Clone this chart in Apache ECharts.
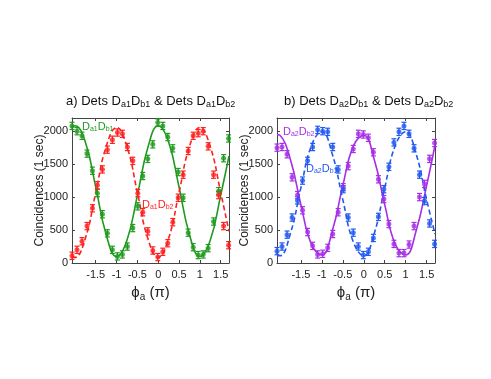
<!DOCTYPE html>
<html>
<head>
<meta charset="utf-8">
<script src="https://cdn.jsdelivr.net/npm/echarts@6/dist/echarts.min.js"></script>
<style>
  html, body { margin: 0; padding: 0; background: #fff; }
  #chart { width: 491px; height: 379px; }
</style>
</head>
<body>
<div id="chart"></div>
<script>
// phase settings (units of pi)
var phiX = [-2.07, -1.95, -1.83, -1.71, -1.58, -1.46, -1.34, -1.22, -1.10, -0.98, -0.86, -0.74, -0.61, -0.49, -0.37, -0.25,
            -0.13, -0.01, 0.11, 0.23, 0.35, 0.48, 0.60, 0.72, 0.84, 0.96, 1.08, 1.20, 1.33, 1.45, 1.57, 1.69];
var tickX = [-1.5, -1, -0.5, 0, 0.5, 1, 1.5];
var tickY = [0, 500, 1000, 1500, 2000];

// measured coincidences (1 sec)
var a1b1 = [2080, 2000, 1930, 1660, 1400, 1060, 740, 450, 200, 100, 130, 250, 530, 860, 1320, 1580,
            1800, 2130, 2080, 1910, 1740, 1380, 990, 460, 240, 120, 130, 225, 630, 1090, 1590, 1890];
var a1b2 = [110, 200, 330, 560, 830, 1180, 1420, 1720, 1870, 1980, 1960, 1760, 1550, 1060, 770, 480,
            190, 90, 170, 300, 620, 990, 1340, 1700, 1930, 1970, 2000, 1770, 1340, 1030, 560, 270];
var a2b1 = [180, 250, 430, 690, 950, 1250, 1550, 1760, 2020, 2000, 1990, 1760, 1420, 1120, 690, 460,
            250, 120, 170, 380, 700, 1120, 1460, 1830, 1990, 2080, 1960, 1740, 1340, 940, 600, 290];
var a2b2 = [1750, 1760, 1650, 1300, 1030, 800, 470, 260, 130, 140, 230, 440, 770, 1150, 1470, 1730,
            1960, 1950, 1900, 1680, 1270, 970, 590, 290, 150, 150, 280, 560, 1000, 1200, 1580, 1820];
var errBar = 55;

// fitted curves, read at quarter steps
var fitX = [-2.07, -2.0, -1.75, -1.5, -1.25, -1.0, -0.75, -0.5, -0.25, 0, 0.25, 0.5, 0.75, 1.0, 1.25, 1.5, 1.70];
var fitA1b1 = [2054, 2083, 1836, 1153, 432, 97, 344, 1027, 1748, 2083, 1836, 1153, 432, 97, 344, 1027, 1623];
var fitA1b2 = [103, 85, 374, 1070, 1766, 2055, 1766, 1070, 374, 85, 374, 1070, 1766, 2055, 1766, 1070, 480];
var fitA2b1 = [109, 109, 448, 1139, 1779, 1991, 1652, 961, 321, 109, 448, 1139, 1779, 1991, 1652, 961, 440];
var fitA2b2 = [1948, 1939, 1571, 886, 286, 121, 489, 1174, 1774, 1939, 1571, 886, 286, 121, 489, 1174, 1790];

var GREEN = '#1f9a1f', RED = '#ff1f1f', BLUE = '#2158f0', PURPLE = '#a52ee6';
var FONT = 'Liberation Sans';

function pairs(xs, ys) {
  return xs.map(function (x, i) { return [x, ys[i]]; });
}

var myChart = echarts.init(document.getElementById('chart'));

function axesFor(g) {
  var line = { show: true, onZero: false, lineStyle: { color: '#444', width: 1 } };
  var xs = [{
    type: 'value', gridIndex: g, min: -2.07, max: 1.70, position: 'bottom',
    axisLine: line, splitLine: { show: false },
    axisTick: { inside: true, length: 3, customValues: tickX, lineStyle: { color: '#444' } },
    axisLabel: { customValues: tickX, fontFamily: FONT, fontSize: 11, color: '#222', margin: 6,
      formatter: function (v) { return String(v); } },
    name: '{b|ϕ}{s|a}{b| (π)}', nameLocation: 'middle', nameGap: 20, nameMoveOverlap: false,
    nameTextStyle: { rich: {
      b: { fontFamily: FONT, fontSize: 15, color: '#222' },
      s: { fontFamily: FONT, fontSize: 10, color: '#222', padding: [9, 0, 0, 0] }
    } }
  }, {
    type: 'value', gridIndex: g, min: -2.07, max: 1.70, position: 'top',
    axisLine: line, splitLine: { show: false },
    axisTick: { inside: true, length: 3, customValues: tickX, lineStyle: { color: '#444' } },
    axisLabel: { show: false }
  }];
  var ys = [{
    type: 'value', gridIndex: g, min: 0, max: 2200, position: 'left',
    axisLine: line, splitLine: { show: false },
    axisTick: { inside: true, length: 3, customValues: tickY, lineStyle: { color: '#444' } },
    axisLabel: { customValues: tickY, fontFamily: FONT, fontSize: 11, color: '#222', margin: 4,
      formatter: function (v) { return String(v); } },
    name: 'Coincidences (1 sec)', nameLocation: 'middle', nameGap: 26, nameMoveOverlap: false,
    nameTextStyle: { fontFamily: FONT, fontSize: 12, color: '#222' }
  }, {
    type: 'value', gridIndex: g, min: 0, max: 2200, position: 'right',
    axisLine: line, splitLine: { show: false },
    axisTick: { inside: true, length: 3, customValues: tickY, lineStyle: { color: '#444' } },
    axisLabel: { show: false }
  }];
  return { x: xs, y: ys };
}

var ax0 = axesFor(0), ax1 = axesFor(1);

function pointsSeries(xi, yi, ys, color) {
  return {
    type: 'scatter', xAxisIndex: xi, yAxisIndex: yi, data: pairs(phiX, ys),
    symbol: 'circle', symbolSize: 5, clip: false, z: 4,
    itemStyle: { color: color }
  };
}

function errorSeries(xi, yi, ys, color) {
  return {
    type: 'custom', xAxisIndex: xi, yAxisIndex: yi, data: pairs(phiX, ys), z: 3,
    renderItem: function (params, api) {
      var x = api.value(0), y = api.value(1);
      var lo = api.coord([x, y - errBar]), hi = api.coord([x, y + errBar]);
      var st = { stroke: color, lineWidth: 1.2 };
      return { type: 'group', children: [
        { type: 'line', shape: { x1: lo[0], y1: lo[1], x2: hi[0], y2: hi[1] }, style: st },
        { type: 'line', shape: { x1: lo[0] - 2.5, y1: lo[1], x2: lo[0] + 2.5, y2: lo[1] }, style: st },
        { type: 'line', shape: { x1: hi[0] - 2.5, y1: hi[1], x2: hi[0] + 2.5, y2: hi[1] }, style: st }
      ] };
    }
  };
}

function fitSeries(xi, yi, ys, color, dashed) {
  return {
    type: 'line', xAxisIndex: xi, yAxisIndex: yi, data: pairs(fitX, ys),
    smooth: 0.45, showSymbol: false, clip: true, z: 2,
    lineStyle: { color: color, width: 1.6, type: dashed ? [5, 3] : 'solid' }
  };
}

function rt(color, size) {
  return {
    n: { fontFamily: FONT, fontSize: size, fill: color },
    s: { fontFamily: FONT, fontSize: Math.round(size * 0.68), fill: color, padding: [Math.round(size * 0.45), 0, 0, 0] }
  };
}

myChart.setOption({
  backgroundColor: '#fff',
  animation: false,
  grid: [
    { left: 72, top: 118, width: 157, height: 145 },
    { left: 277, top: 118, width: 158, height: 145 }
  ],
  xAxis: [ax0.x[0], ax0.x[1], ax1.x[0], ax1.x[1]],
  yAxis: [ax0.y[0], ax0.y[1], ax1.y[0], ax1.y[1]],
  series: [
    fitSeries(0, 0, fitA1b1, GREEN, false),
    fitSeries(0, 0, fitA1b2, RED, true),
    errorSeries(0, 0, a1b1, GREEN),
    errorSeries(0, 0, a1b2, RED),
    pointsSeries(0, 0, a1b1, GREEN),
    pointsSeries(0, 0, a1b2, RED),
    fitSeries(2, 2, fitA2b2, PURPLE, false),
    fitSeries(2, 2, fitA2b1, BLUE, true),
    errorSeries(2, 2, a2b2, PURPLE),
    errorSeries(2, 2, a2b1, BLUE),
    pointsSeries(2, 2, a2b2, PURPLE),
    pointsSeries(2, 2, a2b1, BLUE)
  ],
  graphic: [
    { type: 'text', left: 150 - 84, top: 95, z: 10,
      style: { text: '{n|a) Dets D}{s|a1}{n|D}{s|b1}{n| & Dets D}{s|a1}{n|D}{s|b2}', rich: rt('#111', 13) } },
    { type: 'text', left: 284, top: 95, z: 10,
      style: { text: '{n|b) Dets D}{s|a2}{n|D}{s|b1}{n| & Dets D}{s|a2}{n|D}{s|b2}', rich: rt('#111', 13) } },
    { type: 'text', left: 82, top: 121, z: 10,
      style: { text: '{n|D}{s|a1}{n|D}{s|b1}', rich: rt(GREEN, 11) } },
    { type: 'text', left: 142, top: 199, z: 10,
      style: { text: '{n|D}{s|a1}{n|D}{s|b2}', rich: rt(RED, 11) } },
    { type: 'text', left: 283, top: 126, z: 10,
      style: { text: '{n|D}{s|a2}{n|D}{s|b2}', rich: rt(PURPLE, 11) } },
    { type: 'text', left: 306, top: 163, z: 10,
      style: { text: '{n|D}{s|a2}{n|D}{s|b1}', rich: rt(BLUE, 11) } }
  ]
});
</script>
</body>
</html>
